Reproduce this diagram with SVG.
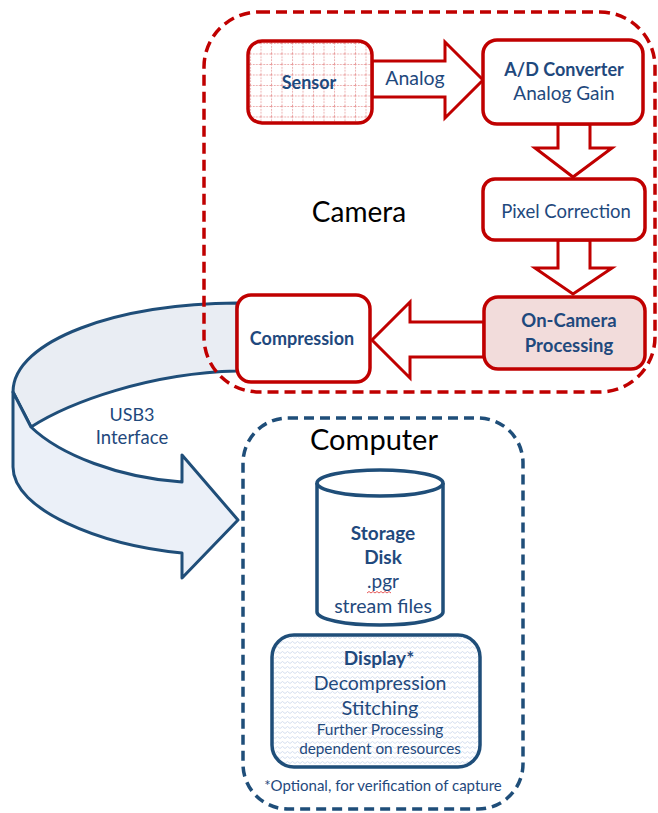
<svg xmlns="http://www.w3.org/2000/svg" width="658" height="813" viewBox="0 0 658 813">
<defs>
<pattern id="grid" width="10.5" height="10.5" patternUnits="userSpaceOnUse" x="250" y="43">
<rect width="10.5" height="10.5" fill="#fff"/>
<path d="M0 0.5H10.5M0.5 0V10.5" stroke="#E89A9A" stroke-width="1" stroke-dasharray="1.5 1.5"/>
</pattern>
<pattern id="wave" width="10" height="5" patternUnits="userSpaceOnUse">
<rect width="10" height="5" fill="#fff"/>
<path d="M0 3.5L2.5 1.5L5 3.5L7.5 1.5L10 3.5" fill="none" stroke="#C9D6EA" stroke-width="0.8"/>
</pattern>
<style>
.rbox{fill:#fff;stroke:#C00000;stroke-width:3.5}
.rarrow{fill:#fff;stroke:#C00000;stroke-width:3;stroke-linejoin:miter}
.bbox{stroke:#1F4E79;stroke-width:3.5}
.t{font-family:Lato,"Open Sans","Liberation Sans",sans-serif;fill:#1F497D;text-anchor:middle}
.b{font-weight:bold}
.k{font-family:Lato,"Open Sans","Liberation Sans",sans-serif;fill:#000;text-anchor:middle}
.ribbon{stroke:#1F4E79;stroke-width:3;stroke-linejoin:round}
</style>
</defs>

<g id="usb3">
<path class="ribbon" fill="#E9EDF3" d="M237 303 C120 303 13 340 13 392 L31 427 C70 402 150 373 237 371 Z"/>
<path class="ribbon" fill="#EBF0F8" d="M13 392 L13 467 C13 510 100 545 182 553 L182 578 L238 520 L182 455 L182 482 C120 478 60 455 31 427 Z"/>
<text class="t" x="132" y="421" font-size="18" fill="#2E5A8C">USB3</text>
<text class="t" x="132" y="444" font-size="18.5">Interface</text>
</g>

<g id="camera">
<rect x="204" y="12" width="451" height="380" rx="55" fill="none" stroke="#C00000" stroke-width="3.5" stroke-dasharray="11 6"/>
<text class="k" x="359" y="222" font-size="28">Camera</text>
</g>

<g id="connectors">
<polygon class="rarrow" points="372,61 445,61 445,42 483,80 445,118 445,97 372,97"/>
<polygon class="rarrow" points="558,124 590,124 590,148 612,148 573,177 535,148 558,148"/>
<polygon class="rarrow" points="558,240 590,240 590,268 612,268 573,294 535,268 558,268"/>
<polygon class="rarrow" points="484,322 410,322 410,302 372,340 410,378 410,357 484,357"/>
<text class="t" x="415" y="85" font-size="19.5">Analog</text>
</g>

<g id="sensor">
<rect x="248" y="41" width="124" height="82" rx="14" fill="url(#grid)" stroke="#C00000" stroke-width="3.5"/>
<text class="t b" x="309" y="89" font-size="18">Sensor</text>
</g>

<g id="adc">
<rect class="rbox" x="483" y="40" width="160" height="84" rx="14"/>
<text class="t b" x="564" y="76" font-size="18">A/D Converter</text>
<text class="t" x="564" y="100" font-size="19">Analog Gain</text>
</g>

<g id="pixel">
<rect class="rbox" x="483" y="179" width="162" height="61" rx="12"/>
<text class="t" x="566" y="218" font-size="18.5">Pixel Correction</text>
</g>

<g id="oncam">
<rect x="484" y="297" width="161" height="72" rx="14" fill="#F2DCDB" stroke="#C00000" stroke-width="3.5"/>
<text class="t b" x="569" y="327" font-size="18.5">On-Camera</text>
<text class="t b" x="569" y="352" font-size="18.5">Processing</text>
</g>

<g id="compression">
<rect class="rbox" x="237" y="295" width="133" height="87" rx="14"/>
<text class="t b" x="302" y="345" font-size="18">Compression</text>
</g>

<g id="computer">
<rect x="243" y="418" width="280" height="391" rx="45" fill="none" stroke="#1F4E79" stroke-width="3.5" stroke-dasharray="10 6"/>
<text class="k" x="374" y="450" font-size="29">Computer</text>
<text class="t" x="383" y="791" font-size="15">*Optional, for verification of capture</text>
</g>

<g id="storage">
<path class="bbox" fill="#fff" d="M317 483 L317 612 A63 13 0 0 0 443 612 L443 483"/>
<ellipse class="bbox" fill="#fff" cx="380" cy="483" rx="63" ry="13"/>
<text class="t b" x="383" y="540" font-size="19">Storage</text>
<text class="t b" x="383" y="564" font-size="19">Disk</text>
<text class="t" x="383" y="588" font-size="19">.pgr</text>
<path d="M367 593 l2 -1.5 l2 1.5 l2 -1.5 l2 1.5 l2 -1.5 l2 1.5 l2 -1.5 l2 1.5 l2 -1.5 l2 1.5 l2 -1.5 l2 1.5" fill="none" stroke="#E03030" stroke-width="0.8"/>
<text class="t" x="383" y="613" font-size="19.5">stream files</text>
</g>

<g id="display">
<rect x="272" y="635" width="208" height="132" rx="22" fill="url(#wave)" stroke="#1F4E79" stroke-width="3.5"/>
<text class="t b" x="379" y="665" font-size="19">Display*</text>
<text class="t" x="380" y="690" font-size="19.5">Decompression</text>
<text class="t" x="380" y="715" font-size="20">Stitching</text>
<text class="t" x="380" y="735" font-size="15.5">Further Processing</text>
<text class="t" x="380" y="754" font-size="15.3">dependent on resources</text>
</g>
</svg>
